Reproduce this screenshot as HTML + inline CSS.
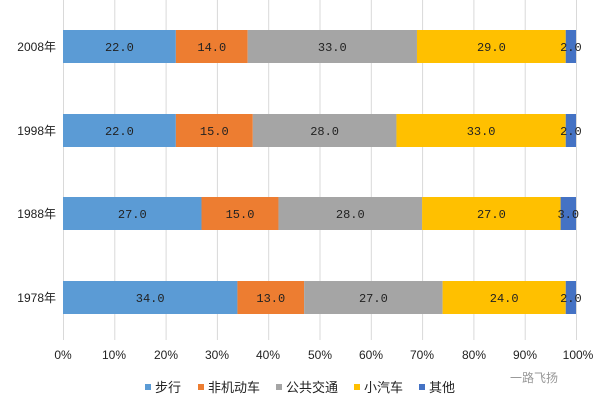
<!DOCTYPE html><html><head><meta charset="utf-8"><style>body{margin:0;background:#fff}svg text{font-family:"Liberation Sans","Noto Sans CJK SC",sans-serif}</style></head><body>
<svg width="600" height="404" xmlns="http://www.w3.org/2000/svg">
<g stroke="#d9d9d9" stroke-width="1">
<line x1="63.5" y1="0" x2="63.5" y2="340"/><line x1="114.8" y1="0" x2="114.8" y2="340"/><line x1="166.1" y1="0" x2="166.1" y2="340"/><line x1="217.4" y1="0" x2="217.4" y2="340"/><line x1="268.7" y1="0" x2="268.7" y2="340"/><line x1="320" y1="0" x2="320" y2="340"/><line x1="371.3" y1="0" x2="371.3" y2="340"/><line x1="422.6" y1="0" x2="422.6" y2="340"/><line x1="473.9" y1="0" x2="473.9" y2="340"/><line x1="525.2" y1="0" x2="525.2" y2="340"/><line x1="576.5" y1="0" x2="576.5" y2="340"/>
</g>
<g>
<rect x="63" y="30" width="112.86" height="33" fill="#5b9bd5"/><rect x="175.86" y="30" width="71.82" height="33" fill="#ed7d31"/><rect x="247.68" y="30" width="169.29" height="33" fill="#a5a5a5"/><rect x="416.97" y="30" width="148.77" height="33" fill="#ffc000"/><rect x="565.74" y="30" width="10.26" height="33" fill="#4472c4"/>
<rect x="63" y="114" width="112.86" height="33" fill="#5b9bd5"/><rect x="175.86" y="114" width="76.95" height="33" fill="#ed7d31"/><rect x="252.81" y="114" width="143.64" height="33" fill="#a5a5a5"/><rect x="396.45" y="114" width="169.29" height="33" fill="#ffc000"/><rect x="565.74" y="114" width="10.26" height="33" fill="#4472c4"/>
<rect x="63" y="197" width="138.51" height="33" fill="#5b9bd5"/><rect x="201.51" y="197" width="76.95" height="33" fill="#ed7d31"/><rect x="278.46" y="197" width="143.64" height="33" fill="#a5a5a5"/><rect x="422.1" y="197" width="138.51" height="33" fill="#ffc000"/><rect x="560.61" y="197" width="15.39" height="33" fill="#4472c4"/>
<rect x="63" y="281" width="174.42" height="33" fill="#5b9bd5"/><rect x="237.42" y="281" width="66.69" height="33" fill="#ed7d31"/><rect x="304.11" y="281" width="138.51" height="33" fill="#a5a5a5"/><rect x="442.62" y="281" width="123.12" height="33" fill="#ffc000"/><rect x="565.74" y="281" width="10.26" height="33" fill="#4472c4"/>
</g>
<g font-size="12" fill="#222" text-anchor="middle" style="font-family:'Liberation Mono',monospace">
<text x="119.4" y="51" style="font-family:'Liberation Mono',monospace">22.0</text><text x="211.8" y="51" style="font-family:'Liberation Mono',monospace">14.0</text><text x="332.3" y="51" style="font-family:'Liberation Mono',monospace">33.0</text><text x="491.4" y="51" style="font-family:'Liberation Mono',monospace">29.0</text><text x="570.9" y="51" style="font-family:'Liberation Mono',monospace">2.0</text>
<text x="119.4" y="135" style="font-family:'Liberation Mono',monospace">22.0</text><text x="214.3" y="135" style="font-family:'Liberation Mono',monospace">15.0</text><text x="324.6" y="135" style="font-family:'Liberation Mono',monospace">28.0</text><text x="481.1" y="135" style="font-family:'Liberation Mono',monospace">33.0</text><text x="570.9" y="135" style="font-family:'Liberation Mono',monospace">2.0</text>
<text x="132.3" y="218" style="font-family:'Liberation Mono',monospace">27.0</text><text x="240" y="218" style="font-family:'Liberation Mono',monospace">15.0</text><text x="350.3" y="218" style="font-family:'Liberation Mono',monospace">28.0</text><text x="491.4" y="218" style="font-family:'Liberation Mono',monospace">27.0</text><text x="568.3" y="218" style="font-family:'Liberation Mono',monospace">3.0</text>
<text x="150.2" y="302" style="font-family:'Liberation Mono',monospace">34.0</text><text x="270.8" y="302" style="font-family:'Liberation Mono',monospace">13.0</text><text x="373.4" y="302" style="font-family:'Liberation Mono',monospace">27.0</text><text x="504.2" y="302" style="font-family:'Liberation Mono',monospace">24.0</text><text x="570.9" y="302" style="font-family:'Liberation Mono',monospace">2.0</text>
</g>
<g font-size="12" fill="#222" text-anchor="end">
<text x="56" y="51">2008年</text><text x="56" y="135">1998年</text><text x="56" y="218">1988年</text><text x="56" y="302">1978年</text>
</g>
<g font-size="12" fill="#222" text-anchor="middle">
<text x="63" y="359">0%</text><text x="114" y="359">10%</text><text x="166" y="359">20%</text><text x="217" y="359">30%</text><text x="268" y="359">40%</text><text x="320" y="359">50%</text><text x="371" y="359">60%</text><text x="422" y="359">70%</text><text x="474" y="359">80%</text><text x="525" y="359">90%</text><text x="578" y="359">100%</text>
</g>
<g font-size="13" fill="#222">
<rect x="145" y="384" width="6" height="6" fill="#5b9bd5"/><text x="155" y="392">步行</text>
<rect x="198" y="384" width="6" height="6" fill="#ed7d31"/><text x="208" y="392">非机动车</text>
<rect x="276" y="384" width="6" height="6" fill="#a5a5a5"/><text x="286" y="392">公共交通</text>
<rect x="354" y="384" width="6" height="6" fill="#ffc000"/><text x="364" y="392">小汽车</text>
<rect x="419" y="384" width="6" height="6" fill="#4472c4"/><text x="429" y="392">其他</text>
</g>
<text x="510" y="382" font-size="12" fill="#999">一路飞扬</text>
</svg></body></html>
